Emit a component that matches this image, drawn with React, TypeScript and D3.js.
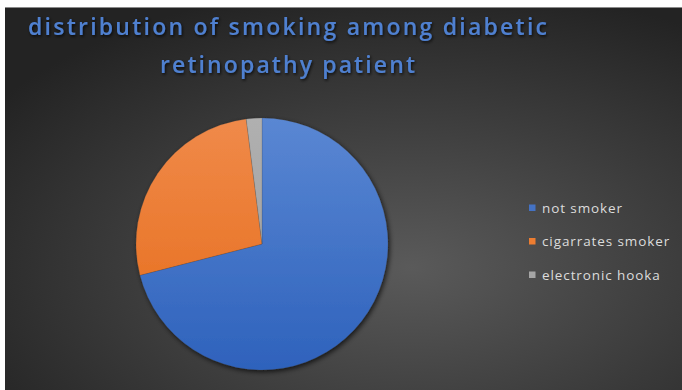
import React from "react";
import * as d3 from "d3";

const categories = ["not smoker", "cigarrates smoker", "electronic hooka"];
const values = [71, 27, 2];
const colorsTop = ["#5a87d3", "#f08a4a", "#b0b0b0"];
const colorsBottom = ["#2e62bc", "#e56a17", "#999999"];
const legendColors = ["#4472c4", "#ed7d31", "#a5a5a5"];
const titleLines = ["distribution of smoking among diabetic", "retinopathy patient"];

export default function App() {
  const W = 682, H = 390;
  const cx = 262, cy = 244, r = 126;
  const pie = d3.pie<number>().sort(null).value((d) => d);
  const arcs = pie(values);
  const arcGen = d3.arc<d3.PieArcDatum<number>>().innerRadius(0).outerRadius(r);
  const legendY = d3.scalePoint<string>().domain(categories).range([211, 278]);

  return (
    <svg width={W} height={H} style={{ position: "absolute", left: 0, top: 0 }}>
      <defs>
        <radialGradient id="bg" cx="0.6" cy="0.68" r="0.75" gradientUnits="objectBoundingBox">
          <stop offset="0" stopColor="#5a5a5a" />
          <stop offset="1" stopColor="#232323" />
        </radialGradient>
        {arcs.map((a, i) => (
          <linearGradient key={i} id={`g${i}`} x1="0" y1={-r} x2="0" y2={r} gradientUnits="userSpaceOnUse">
            <stop offset="0" stopColor={colorsTop[i]} />
            <stop offset="1" stopColor={colorsBottom[i]} />
          </linearGradient>
        ))}
        <filter id="shadow" x="-20%" y="-20%" width="140%" height="140%">
          <feDropShadow dx="1.5" dy="2" stdDeviation="2.5" floodColor="#000" floodOpacity="0.7" />
        </filter>
        <filter id="tshadow" x="-10%" y="-30%" width="120%" height="160%">
          <feDropShadow dx="1" dy="1.5" stdDeviation="1.5" floodColor="#000" floodOpacity="0.8" />
        </filter>
      </defs>
      <rect x={0} y={0} width={W} height={H} fill="#ffffff" />
      <rect x={5} y={7} width={W - 5} height={H - 7} fill="url(#bg)" />
      <line x1={5} x2={W} y1={7.5} y2={7.5} stroke="#8a8a8a" strokeWidth={1} />
      <g filter="url(#tshadow)" fill="#4f80d0" fontFamily="'Open Sans', sans-serif" fontWeight={600} fontSize={23}>
        <text x={28} y={35} textLength={519} lengthAdjust="spacing">{titleLines[0]}</text>
        <text x={160} y={73} textLength={255} lengthAdjust="spacing">{titleLines[1]}</text>
      </g>
      <g transform={`translate(${cx},${cy})`} filter="url(#shadow)">
        {arcs.map((a, i) => (
          <path key={i} d={arcGen(a) || ""} fill={`url(#g${i})`} stroke="#404040" strokeOpacity={0.35} strokeWidth={0.5} />
        ))}
      </g>
      <g fontFamily="'Open Sans', sans-serif" fontSize={13.5} fill="#dcdcdc">
        {categories.map((c, i) => (
          <g key={c}>
            <rect x={529} y={(legendY(c) as number) - 6.5} width={6.5} height={6.5} fill={legendColors[i]} />
            <text x={542} y={(legendY(c) as number) + 1.5} letterSpacing={0.9}>{c}</text>
          </g>
        ))}
      </g>
    </svg>
  );
}
